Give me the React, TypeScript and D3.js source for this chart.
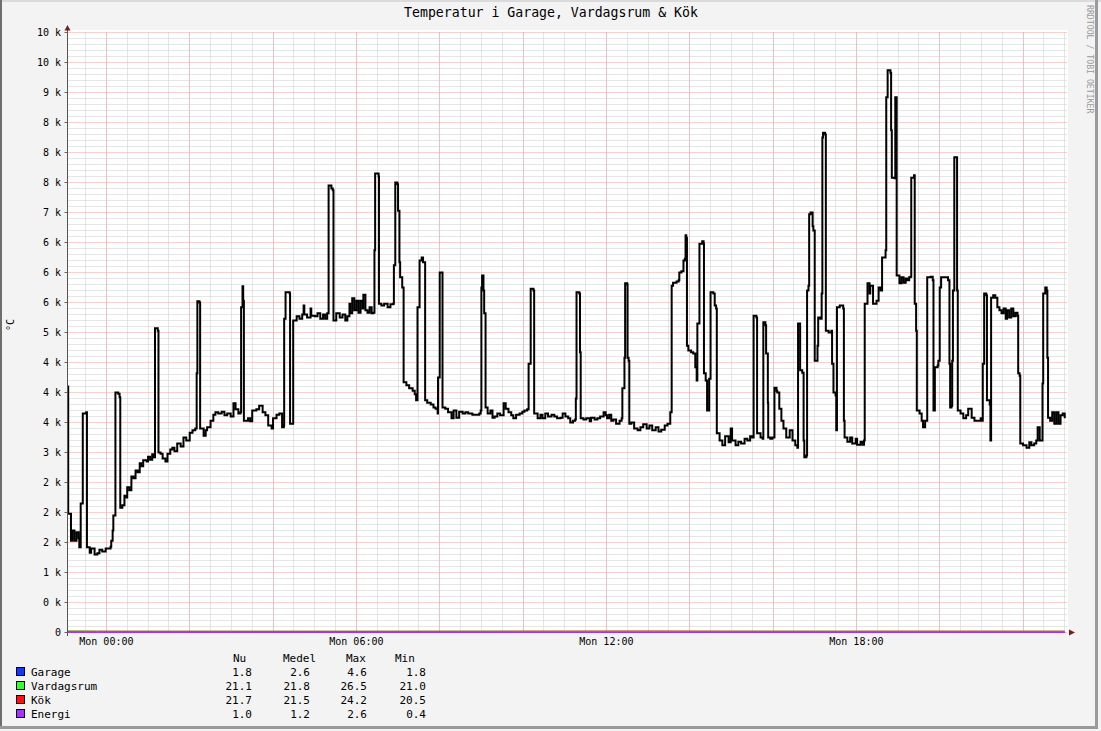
import React from "react";
import * as d3 from "d3";

// ---------- data ----------
// minutes relative to Mon 00:00, value
const mainSeries: [number, number][] = [
  [-56, 4100], [-55, 1980], [-52, 1980], [-51, 1530], [-49, 1700], [-46, 1530], [-43, 1670], [-40, 1570],
  [-39, 1420], [-37, 2150], [-35, 2150], [-34, 3650], [-29, 3670], [-28, 1420], [-24, 1330], [-22, 1400],
  [-17, 1300], [-13, 1320], [-10, 1380], [-6, 1350], [-1, 1400], [3, 1400], [6, 1430], [7, 1530],
  [9, 1700], [10, 1950], [13, 4000], [17, 3980], [19, 3920], [20, 2080], [23, 2120], [26, 2280],
  [29, 2250], [30, 2420], [33, 2370], [36, 2600], [39, 2570], [42, 2700], [45, 2670], [48, 2820],
  [50, 2770], [53, 2870], [58, 2850], [60, 2930], [63, 2880], [66, 2970], [68, 2920], [70, 5070],
  [74, 5030], [75, 3000], [78, 2980], [81, 2900], [85, 2850], [88, 2980], [92, 3050], [95, 3080],
  [98, 3020], [102, 3150], [107, 3100], [111, 3250], [115, 3200], [120, 3330], [124, 3370], [128, 3400],
  [130, 4320], [131, 5520], [134, 5500], [135, 3400], [140, 3280], [143, 3370], [145, 3420], [150, 3530],
  [154, 3630], [157, 3670], [161, 3650], [166, 3680], [170, 3620], [174, 3650], [179, 3600], [183, 3820],
  [186, 3720], [190, 3650], [193, 3670], [194, 5420], [196, 5770], [197, 5530], [198, 3530], [202, 3530],
  [204, 3570], [207, 3520], [210, 3700], [216, 3720], [220, 3780], [225, 3670], [229, 3620], [233, 3450],
  [238, 3400], [240, 3570], [245, 3630], [249, 3650], [253, 3420], [255.5, 3450], [256, 5230], [258, 5670],
  [264, 5650], [264.5, 3480], [268, 3480], [269, 5200], [274, 5270], [278, 5230], [282, 5300], [284, 5450],
  [285, 5300], [289, 5250], [294, 5400], [295, 5280], [300, 5270], [304, 5320], [308, 5230], [312, 5300],
  [315, 5230], [318, 5320], [320, 7450], [324, 7400], [326, 7370], [327, 5200], [331, 5320], [336, 5250],
  [340, 5300], [344, 5200], [347, 5270], [350, 5480], [351, 5320], [354, 5570], [357, 5370], [360, 5530],
  [363, 5330], [366, 5530], [369, 5400], [370, 5630], [373, 5370], [376, 5330], [379, 5420], [382, 5320],
  [384, 5330], [386, 6370], [387, 7650], [392, 7600], [392.5, 5480], [396, 5450], [400, 5480], [405, 5420],
  [409, 5470], [413, 5480], [414, 6120], [416, 7500], [419, 7470], [420, 7030], [422, 6170], [423, 5920],
  [426, 5750], [428, 4170], [432, 4120], [436, 4070], [441, 4030], [444, 3970], [446, 3870], [448, 5420],
  [451, 6200], [454, 6250], [456, 6170], [459, 3870], [462, 3830], [467, 3800], [471, 3750], [474, 3730],
  [477, 3650], [477.5, 4250], [480, 6000], [482, 6000], [484, 3750], [488, 3730], [492, 3670], [497, 3570],
  [500, 3700], [504, 3580], [508, 3680], [513, 3650], [517, 3670], [521, 3650], [527, 3630], [533, 3630],
  [537, 3650], [539, 3700], [540, 5750], [541, 5950], [543, 5700], [544, 5320], [546, 3750], [549, 3650],
  [553, 3700], [556, 3580], [559, 3600], [563, 3650], [567, 3620], [572, 3820], [575, 3730], [579, 3670],
  [583, 3620], [586, 3570], [590, 3630], [595, 3650], [599, 3680], [602, 3700], [606, 3720], [608, 4480],
  [611, 5730], [615, 5700], [616, 3650], [621, 3570], [625, 3630], [628, 3570], [632, 3650], [636, 3600],
  [641, 3630], [645, 3600], [649, 3570], [654, 3580], [657, 3650], [661, 3600], [665, 3570], [668, 3500],
  [672, 3530], [675, 3550], [676, 3900], [677, 5670], [681, 5650], [682, 4670], [683, 3570], [687, 3550],
  [691, 3570], [696, 3520], [698, 3580], [703, 3550], [707, 3570], [711, 3600], [716, 3670], [719, 3620],
  [721, 3570], [724, 3630], [727, 3530], [730, 3550], [734, 3480], [739, 3530], [742, 3570], [743, 4070],
  [746, 4580], [747, 5820], [750, 5800], [750.5, 4580], [752, 4530], [753, 3480], [756, 3500], [760, 3400],
  [765, 3370], [769, 3420], [773, 3470], [778, 3400], [782, 3450], [786, 3370], [791, 3420], [795, 3350],
  [799, 3380], [804, 3450], [808, 3480], [812, 3670], [814, 5780], [816, 5830], [821, 5850], [824, 5870],
  [825, 6000], [828, 6020], [831, 6200], [833, 6230], [834, 6620], [835, 6580], [836, 4780], [838, 4700],
  [842, 4670], [845, 4650], [848, 4420], [850, 4200], [851, 5150], [853, 5150], [854, 6480], [858, 6520],
  [860, 6480], [860.5, 4320], [863, 4200], [865, 3700], [867, 3700], [868, 4230], [870, 5670], [874, 5650],
  [876, 5450], [878, 5400], [879, 3320], [883, 3200], [887, 3120], [891, 3270], [896, 3170], [899, 3400],
  [901, 3200], [906, 3120], [910, 3180], [914, 3150], [919, 3230], [923, 3200], [927, 3270], [930, 3250],
  [932, 5280], [936, 5250], [937, 3320], [942, 3250], [945, 3230], [946, 5170], [949, 5120], [950, 4650],
  [952.5, 3830], [953, 3250], [956, 3230], [959, 3250], [962, 4080], [965, 4030], [966, 4000], [969, 3730],
  [972, 3530], [975, 3400], [979, 3250], [984, 3370], [988, 3200], [992, 3120], [995, 3080], [996, 5150],
  [998.5, 5150], [999, 4370], [1002, 4330], [1004, 3200], [1005, 2920], [1008, 2950], [1009, 5700], [1011, 5780],
  [1012, 6970], [1014, 7000], [1017, 6770], [1018, 6700], [1020, 4530], [1022, 4530], [1024, 4780], [1025, 5250],
  [1028, 5230], [1030, 5650], [1031, 8250], [1032, 8330], [1035, 8300], [1036, 5030], [1040, 5000], [1044, 5030],
  [1045, 4480], [1047, 4000], [1050, 3950], [1051, 3370], [1052, 5420], [1056, 5450], [1061, 5400], [1062, 3530],
  [1063, 3250], [1067, 3180], [1071, 3250], [1074, 3150], [1079, 3230], [1081, 3130], [1086, 3180], [1089, 3130],
  [1091, 3200], [1092, 5480], [1094, 5480], [1096, 5820], [1099, 5650], [1100, 5780], [1104, 5480], [1109, 5530],
  [1112, 5750], [1115, 5700], [1117, 6250], [1122, 6370], [1123, 8920], [1125, 9370], [1129, 9330], [1130, 8370],
  [1131, 7580], [1135, 7570], [1136, 8920], [1137.5, 8920], [1138, 5950], [1142, 5820], [1145, 5920], [1148, 5830],
  [1151, 5900], [1153, 5870], [1156, 5920], [1158, 5930], [1159, 7580], [1163, 7620], [1164, 5480], [1166, 5030],
  [1167, 3700], [1171, 3650], [1174, 3530], [1176, 3420], [1179, 3530], [1181, 3530], [1182, 5920], [1187, 5930],
  [1190, 5870], [1191, 3700], [1192, 3700], [1193, 4420], [1197, 4450], [1198, 4530], [1200, 5750], [1202, 5920],
  [1210, 5920], [1212, 5870], [1214, 4480], [1215, 3750], [1217, 3780], [1218, 4530], [1219, 5700], [1221, 7920],
  [1224, 7920], [1225, 5700], [1226, 3700], [1230, 3650], [1234, 3570], [1238, 3620], [1241, 3730], [1246, 3580],
  [1250, 3530], [1254, 3530], [1259, 3570], [1261, 3530], [1262, 4480], [1264, 5650], [1267, 5620], [1268, 3870],
  [1272, 3800], [1273, 3200], [1274, 5580], [1277, 5620], [1280, 5580], [1283, 5420], [1286, 5370], [1289, 5320],
  [1292, 5400], [1295, 5230], [1297, 5370], [1300, 5250], [1303, 5400], [1306, 5270], [1309, 5330], [1312, 5280],
  [1313, 4320], [1315, 4280], [1316, 3150], [1320, 3120], [1325, 3080], [1329, 3170], [1332, 3120], [1336, 3150],
  [1339, 3200], [1341, 3420], [1344, 3200], [1346, 3200], [1348, 4150], [1349, 5650], [1352, 5750], [1354, 5700],
  [1355, 4580], [1356, 3580], [1359, 3530], [1362, 3670], [1365, 3480], [1368, 3670], [1371, 3480], [1374, 3620],
  [1377, 3650], [1380, 3570],
];

const bottomTimes = [-56, -30, -14, 60, 180, 300, 420, 540, 660, 780, 900, 1020, 1140, 1260, 1380];
const garage = [4.6, 4.3, 4.0, 3.4, 2.8, 2.4, 2.1, 2.2, 2.6, 2.9, 2.7, 2.4, 2.1, 1.9, 1.8];
const vardagsrum = [26.5, 26.3, 21.6, 21.3, 21.2, 21.0, 21.4, 21.9, 22.3, 22.4, 22.0, 21.8, 21.5, 21.3, 21.1];
const kok = [21.0, 21.2, 21.4, 21.0, 20.8, 20.5, 21.0, 21.6, 22.5, 24.2, 21.8, 21.5, 22.0, 21.9, 21.7];
const energi = [0.8, 0.6, 0.4, 0.5, 0.7, 1.2, 1.5, 1.3, 1.1, 2.6, 1.6, 1.4, 1.8, 1.2, 1.0];

const yTickValues = [0, 500, 1000, 1500, 2000, 2500, 3000, 3500, 4000, 4500, 5000, 5500, 6000, 6500, 7000, 7500, 8000, 8500, 9000, 9500, 10000];
const yTickLabels = ["0", "0 k", "1 k", "2 k", "2 k", "2 k", "3 k", "4 k", "4 k", "4 k", "5 k", "6 k", "6 k", "6 k", "7 k", "8 k", "8 k", "8 k", "9 k", "10 k", "10 k"];

const legendNames = ["Garage", "Vardagsrum", "Kök", "Energi"];
const statNu = [1.8, 21.1, 21.7, 1.0];
const statMedel = [2.6, 21.8, 21.5, 1.2];
const statMax = [4.6, 26.5, 24.2, 2.6];
const statMin = [1.8, 21.0, 20.5, 0.4];

const title = "Temperatur i Garage, Vardagsrum & Kök";
const yAxisTitle = "°C";
const watermark = "RRDTOOL / TOBI OETIKER";

// ---------- styles ----------
const seriesColors = ["#1038ff", "#33ff33", "#ff1010", "#a433ff"];
const FONT = "'DejaVu Sans Mono', monospace";

const BASE = new Date(2024, 0, 1, 0, 0, 0).getTime(); // a Monday
const toDate = (m: number) => new Date(BASE + m * 60000);
const START_MIN = -56;

export default function App() {
  const W = 1101, H = 731;
  const left = 67.5, right = 1067.5, top = 32.5, bottom = 632.5;

  const x = d3.scaleTime().domain([toDate(START_MIN), toDate(START_MIN + 1440)]).range([left, right]);
  const y = d3.scaleLinear().domain([0, 10000]).range([bottom, top]);

  const [d0, d1] = x.domain();
  const minorX = d3.timeMinute.every(30)!.range(d0, d1);
  const majorX = d3.timeHour.every(2)!.range(d0, d1);
  const labelX = d3.timeHour.every(6)!.range(d0, d1);
  const fmt = d3.timeFormat("%a %H:%M");
  const minorY = d3.range(0, 10001, 100).filter((v) => v % 500 !== 0);

  const line = d3
    .line<[number, number]>()
    .x((d) => x(toDate(d[0])))
    .y((d) => y(d[1]));
  const stepLine = d3
    .line<[number, number]>()
    .curve(d3.curveStepAfter)
    .x((d) => x(toDate(d[0])))
    .y((d) => y(d[1]));

  const bottomSeries = [garage, vardagsrum, energi, kok].map((vals) =>
    line(bottomTimes.map((t, i) => [t, vals[i]] as [number, number]))
  );
  const bottomColors = [seriesColors[0], seriesColors[1], seriesColors[3], seriesColors[2]];

  const colX = [252, 310, 367, 426];
  const headers = ["Nu", "Medel", "Max", "Min"];
  const headerX = [233, 283, 346, 395];
  const stats = [statNu, statMedel, statMax, statMin];
  const rowY = [676, 690, 704, 718];
  const vx = (d: Date) => Math.round(x(d) - 0.5) + 0.5;

  return (
    <svg
      width={W}
      height={H}
      style={{ position: "absolute", left: 0, top: 0, display: "block" }}
      fontFamily={FONT}
    >
      <rect x={0} y={0} width={W} height={H} fill="#f3f3f3" />
      <rect x={0} y={0} width={W} height={2} fill="#dadada" />
      <rect x={0} y={0} width={2} height={729} fill="#6e6e6e" />
      <rect x={1095} y={0} width={3} height={729} fill="#9a9a9a" />
      <rect x={0} y={726} width={1098} height={3} fill="#9a9a9a" />

      {/* canvas */}
      <rect x={67} y={30} width={1001} height={602} fill="#ffffff" />

      {/* minor grid */}
      <g stroke="#cdcdcd" strokeWidth={1} strokeDasharray="1,1">
        {minorY.map((v) => (
          <line key={"my" + v} x1={left} x2={right} y1={y(v)} y2={y(v)} />
        ))}
        {minorX.map((d) => (
          <line key={"mx" + d.getTime()} x1={vx(d)} x2={vx(d)} y1={top} y2={bottom} />
        ))}
      </g>
      {/* major grid */}
      <g stroke="#f3a0a0" strokeWidth={1} strokeDasharray="1,1">
        {yTickValues.map((v) => (
          <line key={"My" + v} x1={left} x2={right} y1={y(v)} y2={y(v)} />
        ))}
        {majorX.map((d) => (
          <line key={"Mx" + d.getTime()} x1={vx(d)} x2={vx(d)} y1={top} y2={bottom} />
        ))}
      </g>

      {/* y tick labels */}
      <g fontSize={10} fill="#000" textAnchor="end">
        {yTickValues.map((v, i) => (
          <text key={"yl" + v} x={61} y={y(v) + 3.5}>
            {yTickLabels[i]}
          </text>
        ))}
      </g>
      <g stroke="#666" strokeWidth={1}>
        {yTickValues.map((v) => (
          <line key={"yt" + v} x1={64.5} x2={67.5} y1={y(v)} y2={y(v)} />
        ))}
      </g>

      {/* x labels */}
      <g fontSize={10} fill="#000" textAnchor="middle">
        {labelX.map((d) => (
          <text key={"xl" + d.getTime()} x={x(d)} y={644.5}>
            {fmt(d)}
          </text>
        ))}
      </g>

      {/* bottom series */}
      {bottomSeries.map((p, i) => (
        <path key={"bs" + i} d={p || ""} fill="none" stroke={bottomColors[i]} strokeWidth={1} />
      ))}

      {/* main line */}
      <path d={stepLine(mainSeries) || ""} fill="none" stroke="#000" strokeWidth={2} strokeLinejoin="miter" />

      {/* axes */}
      <line x1={left} x2={left} y1={28} y2={636} stroke="#555" strokeWidth={1} />
      <path d="M64.5,30.5 L67.5,25 L70.5,30.5 Z" fill="#7a1c1c" />
      <path d="M1069,629.5 L1075,632.5 L1069,635.5 Z" fill="#7a1c1c" />

      {/* title */}
      <text x={551} y={17} fontSize={13.2} textAnchor="middle" fill="#000">
        {title}
      </text>

      {/* y axis title */}
      <text transform="translate(14,325) rotate(-90)" fontSize={10} textAnchor="middle" fill="#000">
        {yAxisTitle}
      </text>

      {/* watermark */}
      <text transform="translate(1087,5) rotate(90)" fontSize={8.2} fill="#9a9a9a" textAnchor="start">
        {watermark}
      </text>

      {/* legend */}
      <g fontSize={11} fill="#000">
        {headers.map((h, i) => (
          <text key={"h" + h} x={headerX[i]} y={662}>
            {h}
          </text>
        ))}
        {legendNames.map((n, r) => (
          <g key={"lg" + n}>
            <rect x={16.5} y={rowY[r] - 8.5} width={8} height={8} fill={seriesColors[r]} stroke="#000" strokeWidth={1} />
            <text x={31} y={rowY[r]}>
              {n}
            </text>
            {stats.map((s, c) => (
              <text key={"s" + c} x={colX[c]} y={rowY[r]} textAnchor="end">
                {s[r].toFixed(1)}
              </text>
            ))}
          </g>
        ))}
      </g>
    </svg>
  );
}
